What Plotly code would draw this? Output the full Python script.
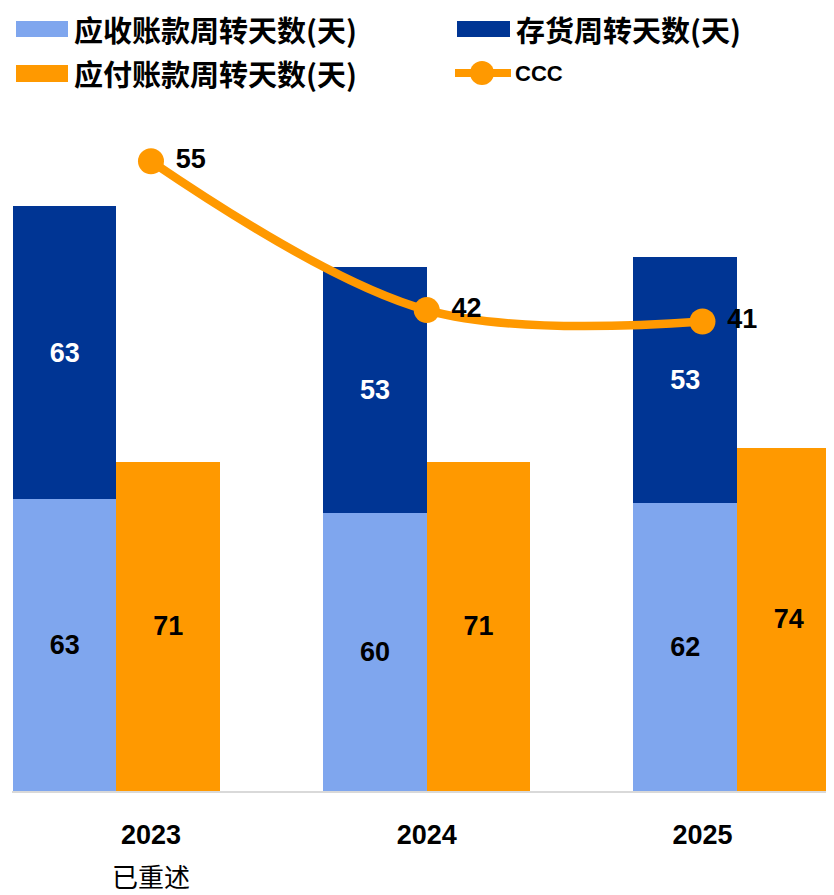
import plotly.graph_objects as go

# ── Datos ─────────────────────────────────────────────────────────────────────
years = ["2023", "2024", "2025"]
receivable_days = [63, 60, 62]   # 应收账款周转天数
inventory_days = [63, 53, 53]    # 存货周转天数
payable_days = [71, 71, 74]      # 应付账款周转天数
ccc_days = [55, 42, 41]          # CCC
restated_note = "已重述"
legend_names = ["应收账款周转天数(天)", "存货周转天数(天)", "应付账款周转天数(天)", "CCC"]

# ── Estilo ────────────────────────────────────────────────────────────────────
LIGHT_BLUE = "#7FA6EE"
DARK_BLUE = "#003594"
ORANGE = "#FF9900"
NUM_FONT = "Liberation Sans, Arial, sans-serif"
CJK_FONT = "Noto Sans CJK SC, sans-serif"

# la pagina deja 8px de margen en el body
OFF = 8
W, H = 834 - OFF, 895 - OFF
L, R, T, B = 12 - OFF, 0, 110 - OFF, 104
PW, PH = W - L - R, H - T - B

BAR_W = 0.334
idx = list(range(len(years)))
left_pos = [i - BAR_W / 2 for i in idx]
right_pos = [i + BAR_W / 2 for i in idx]


def px(x):
    return (x - OFF - L) / PW


def py(y):
    return (H - B - (y - OFF)) / PH


def num_font(color, size=27):
    return dict(family=NUM_FONT, size=size, color=color, weight="bold")


fig = go.Figure()

fig.add_trace(go.Bar(
    x=left_pos, y=receivable_days, width=BAR_W, name=legend_names[0],
    marker=dict(color=LIGHT_BLUE, line=dict(width=0)),
    text=receivable_days, textposition="inside", insidetextanchor="middle",
    textangle=0, constraintext="none", textfont=num_font("black"),
    xaxis="x", yaxis="y", showlegend=False
))
fig.add_trace(go.Bar(
    x=left_pos, y=inventory_days, width=BAR_W, name=legend_names[1],
    marker=dict(color=DARK_BLUE, line=dict(width=0)),
    text=inventory_days, textposition="inside", insidetextanchor="middle",
    textangle=0, constraintext="none", textfont=num_font("white"),
    xaxis="x", yaxis="y", showlegend=False
))
fig.add_trace(go.Bar(
    x=right_pos, y=payable_days, width=BAR_W, name=legend_names[2],
    marker=dict(color=ORANGE, line=dict(width=0)),
    text=payable_days, textposition="inside", insidetextanchor="middle",
    textangle=0, constraintext="none", textfont=num_font("black"),
    xaxis="x", yaxis="y", showlegend=False
))
fig.add_trace(go.Scatter(
    x=idx, y=ccc_days, name=legend_names[3],
    mode="lines+markers+text",
    line=dict(color=ORANGE, width=8.5, shape="spline"),
    marker=dict(color=ORANGE, size=26),
    text=ccc_days, texttemplate=" %{text}",
    textposition="middle right", textfont=num_font("black"),
    xaxis="x2", yaxis="y2", showlegend=False, cliponaxis=False
))

# ── Leyenda manual ────────────────────────────────────────────────────────────
shapes = [
    dict(type="rect", xref="paper", yref="paper", x0=px(16), x1=px(68),
         y0=py(37), y1=py(21), fillcolor=LIGHT_BLUE, line=dict(width=0)),
    dict(type="rect", xref="paper", yref="paper", x0=px(457), x1=px(510),
         y0=py(37), y1=py(21), fillcolor=DARK_BLUE, line=dict(width=0)),
    dict(type="rect", xref="paper", yref="paper", x0=px(16), x1=px(68),
         y0=py(82), y1=py(65), fillcolor=ORANGE, line=dict(width=0)),
    dict(type="line", xref="paper", yref="paper", x0=px(455), x1=px(511),
         y0=py(73), y1=py(73), line=dict(color=ORANGE, width=8)),
    dict(type="circle", xref="paper", yref="paper", x0=px(470), x1=px(494),
         y0=py(85), y1=py(61), fillcolor=ORANGE, line=dict(width=0)),
]

legend_font = dict(family=CJK_FONT, size=29, color="black", weight="bold")
annotations = [
    dict(text=legend_names[0], x=px(72), y=py(29)),
    dict(text=legend_names[1], x=px(514), y=py(29)),
    dict(text=legend_names[2], x=px(72), y=py(73)),
    dict(text=legend_names[3], x=px(513), y=py(73)),
]
for a in annotations:
    a.update(xref="paper", yref="paper", xanchor="left", yanchor="middle",
             showarrow=False, font=legend_font)
annotations[3]["font"] = num_font("black", 22)

annotations.append(dict(
    text=restated_note, xref="x2", x=0, yref="paper", y=py(875),
    xanchor="center", yanchor="middle", showarrow=False,
    font=dict(family=CJK_FONT, size=26, color="black")
))

fig.update_layout(
    width=W, height=H,
    margin=dict(l=L, r=R, t=T, b=B, pad=0),
    paper_bgcolor="white", plot_bgcolor="white",
    barmode="stack",
    shapes=shapes, annotations=annotations,
    xaxis=dict(range=[-0.3368, 2.3127], showticklabels=False, showgrid=False,
               zeroline=False, showline=True, linecolor="#D9D9D9", linewidth=2,
               ticks=""),
    xaxis2=dict(overlaying="x", range=[-0.504, 2.477], tickmode="array",
                tickvals=idx, ticktext=years, showgrid=False, zeroline=False,
                showline=False, ticks="", side="bottom",
                tickfont=num_font("black", 27), ticklabelstandoff=25),
    yaxis=dict(range=[0, PH / 4.64], visible=False, showgrid=False),
    yaxis2=dict(overlaying="y", range=[0, PH / 11.45], visible=False,
                showgrid=False),
)

fig.write_html("out.html")
